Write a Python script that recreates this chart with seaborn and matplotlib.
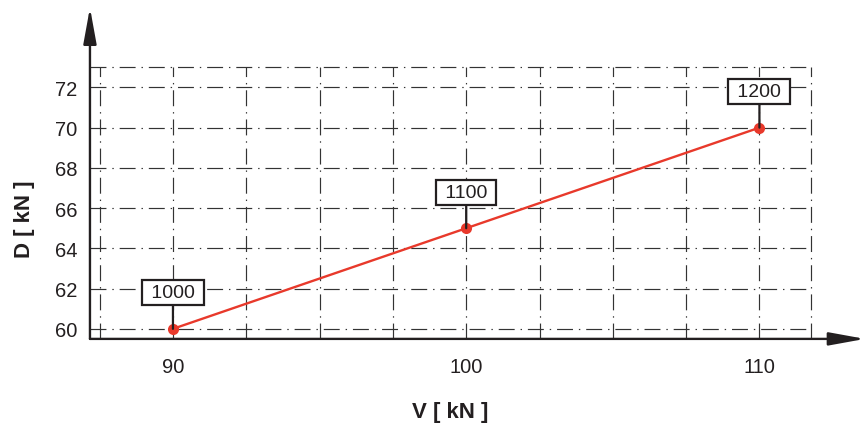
import matplotlib
matplotlib.use("Agg")
import matplotlib.pyplot as plt
import seaborn as sns
import pandas as pd

# data
v_kn = [90, 100, 110]
d_kn = [60, 65, 70]
point_labels = ["1000", "1100", "1200"]
x_ticks = [90, 100, 110]
y_ticks = [60, 62, 64, 66, 68, 70, 72]

RED = "#e8392b"
INK = "#231f20"
GRID = "#333333"

sns.set_style("white")
plt.rcParams["font.family"] = ["Liberation Sans", "DejaVu Sans"]

df = pd.DataFrame({"V": v_kn, "D": d_kn})

fig = plt.figure(figsize=(8.65, 4.27), dpi=100)
ax = fig.add_axes([0.104, 0.204, 0.896, 0.768])

# dash-dot grid box
grid_x = [87.5, 90, 92.5, 95, 97.5, 100, 102.5, 105, 107.5, 110, 111.75]
grid_y = [60, 62, 64, 66, 68, 70, 72, 73]
dashdot = (0, (13.5, 5, 1.2, 5))
ax.vlines(grid_x, 59.5, 73, colors=GRID, linewidth=0.85, linestyles=[dashdot], zorder=1)
ax.hlines(grid_y, 87.17, 111.75, colors=GRID, linewidth=0.85, linestyles=[dashdot], zorder=1)

sns.lineplot(data=df, x="V", y="D", color=RED, linewidth=1.7, marker="o",
             markersize=8, markeredgewidth=0, ax=ax, zorder=4)

for v, d, lab in zip(v_kn, d_kn, point_labels):
    ax.annotate(" " + lab + " ", xy=(v, d), xytext=(0, 26), textcoords="offset points",
                ha="center", va="center", fontsize=14, color=INK, zorder=5,
                bbox=dict(boxstyle="square,pad=0.2", fc="white", ec=INK, lw=1.6),
                arrowprops=dict(arrowstyle="-", color=INK, lw=1.6,
                                shrinkA=0, shrinkB=0))

ax.set_xlim(87.17, 113.6)
ax.set_ylim(59.5, 75.8)
ax.set_xticks(x_ticks)
ax.set_yticks(y_ticks)
ax.tick_params(axis="both", length=0, labelsize=14.5, labelcolor=INK)
ax.tick_params(axis="x", pad=13)
ax.tick_params(axis="y", pad=9)
for s in ax.spines.values():
    s.set_visible(False)

# axes drawn as arrows
arrow = dict(arrowstyle="-|>,head_length=2.2,head_width=0.4", color=INK, lw=1.7,
             shrinkA=0, shrinkB=0, mutation_scale=10)
ax.annotate("", xy=(0, 1.01), xytext=(0, 0), xycoords="axes fraction", arrowprops=arrow)
ax.annotate("", xy=(1, 0), xytext=(0, 0), xycoords="axes fraction", arrowprops=arrow)

ax.set_xlabel("V [ kN ]", fontsize=16, fontweight="bold", color=INK)
ax.set_ylabel("D [ kN ]", fontsize=16, fontweight="bold", color=INK)
ax.xaxis.set_label_coords(0.465, -0.19)
ax.yaxis.set_label_coords(-0.071, 0.369)

fig.savefig("out.png", dpi=100)
